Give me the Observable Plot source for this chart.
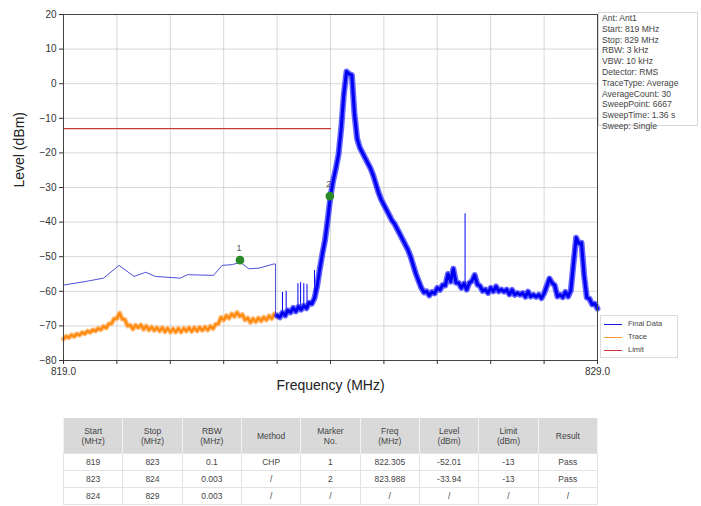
<!DOCTYPE html>
<html>
<head>
<meta charset="utf-8">
<script src="https://cdn.jsdelivr.net/npm/d3@7"></script>
<script src="https://cdn.jsdelivr.net/npm/@observablehq/plot@0.6"></script>
<style>
  body { margin: 0; background: #fff; font-family: "Liberation Sans", Arial, sans-serif; }
  #wrap { position: relative; width: 701px; height: 506px; overflow: hidden; }
  #chart { position: absolute; left: 0; top: 0; }
  #info { position: absolute; left: 598px; top: 12px; width: 100px; height: 114px; border: 1px solid #d8d8d8; box-sizing: border-box;
          font-size: 8.6px; line-height: 10.8px; color: #444; padding: 0 0 0 3px; white-space: pre; background: #fff; }
  #legend { position: absolute; left: 600px; top: 315px; width: 78px; height: 43px; border: 1px solid #dcdcdc; box-sizing: border-box;
            font-size: 7.5px; color: #444; background: #fff; }
  #legend div { position: absolute; left: 0; height: 10px; line-height: 10px; }
  #legend span.sw { position: absolute; left: 3px; top: 5px; width: 18px; height: 0; border-top: 1.5px solid; }
  #legend span.lb { position: absolute; left: 27px; top: 0; }
  table { position: absolute; left: 63px; top: 418px; width: 535px; border-collapse: collapse; table-layout: fixed;
          font-size: 8.5px; color: #444; text-align: center; }
  th { background: #d9d9d9; font-weight: normal; height: 35px; border-left: 1px solid #f2f2f2; border-right: 1px solid #f2f2f2; line-height: 10px; padding: 0; }
  td { height: 16px; border: 1px solid #e3e3e3; padding: 0; }
</style>
</head>
<body>
<div id="wrap">
  <div id="chart"></div>
  <div id="info"></div>
  <div id="legend"></div>
  <table id="tbl"></table>
</div>
<script>
// ---------- data ----------
const xTicks = [819, 820, 821, 822, 823, 824, 825, 826, 827, 828, 829];
const xTickLabels = ["819.0", "", "", "", "", "", "", "", "", "", "829.0"];
const yTicks = [-80, -70, -60, -50, -40, -30, -20, -10, 0, 10, 20];

// Final Data, 819–823 MHz segment (RBW 0.1 MHz)
const finalSegFreq  = [819.0, 819.0, 819.4, 819.75, 820.04, 820.32, 820.54, 820.72, 821.19, 821.32, 821.81, 821.97, 822.16, 822.31, 822.47, 822.66, 822.94, 822.97, 822.97];
const finalSegLevel = [-73.5, -58.2, -57.2, -56.2, -52.5, -55.7, -54.5, -55.7, -56.2, -55.2, -55.4, -52.5, -52.3, -51.6, -53.5, -53.3, -52.1, -52.1, -67.5];

// Final Data, 823–829 MHz (RBW 3 kHz), read every 0.05 MHz
const finalStart = 823.0, finalStep = 0.05;
const finalLevel = [
  -67.0, -67.5, -66.2, -67.0, -65.5, -66.1, -64.8, -65.8, -64.5, -65.3,
  -64.2, -64.9, -63.3, -63.6, -62.0, -58.5, -53.5, -49.0, -45.0, -39.0,
  -32.5, -28.0, -24.5, -20.5, -13.0, -3.0, 3.5, 2.8, 2.5, -9.0,
  -16.0, -18.5, -20.0, -21.5, -23.0, -24.5, -26.5, -29.0, -31.5, -33.5,
  -35.0, -36.5, -38.0, -39.5, -40.5, -42.0, -43.5, -45.0, -46.5, -48.0,
  -50.0, -52.5, -55.0, -57.0, -59.0, -60.3, -60.0, -61.2, -60.2, -60.6,
  -59.0, -59.6, -58.2, -58.3, -55.0, -57.2, -53.5, -57.5, -57.6, -59.0,
  -57.8, -59.5, -57.6, -57.0, -55.3, -58.0, -58.5, -59.9, -59.5, -60.5,
  -59.0, -60.0, -58.6, -60.0, -59.5, -60.1, -59.5, -60.9, -59.6, -61.0,
  -60.5, -61.0, -60.5, -61.6, -60.1, -61.5, -61.0, -61.6, -61.0, -62.0,
  -60.6, -58.5, -56.3, -57.6, -58.3, -61.5, -61.0, -61.7, -60.2, -61.5,
  -59.8, -52.0, -44.5, -46.2, -46.0, -55.5, -61.8, -62.2, -63.8, -63.6,
  -65.0
];

// narrow spurs on the Final Data trace
const spurFreq = [823.10, 823.17, 823.39, 823.44, 823.50, 823.56, 823.70, 826.52];
const spurBase = [-66.5, -66.3, -65.0, -64.8, -64.5, -64.2, -62.0, -58.0];
const spurTop  = [-60.3, -60.0, -57.8, -57.5, -57.8, -58.0, -54.0, -37.6];

// Trace, 819–823 MHz, read every 0.05 MHz
const traceStart = 819.0, traceStep = 0.05;
const traceLevel = [
  -73.8, -73.0, -73.4, -72.6, -73.1, -72.3, -72.7, -71.9, -72.3, -71.5,
  -71.9, -71.1, -71.5, -70.7, -71.1, -70.1, -70.6, -69.4, -69.3, -67.9,
  -67.9, -66.3, -68.0, -68.2, -70.0, -69.8, -70.9, -69.8, -70.5, -69.7,
  -71.0, -70.0, -71.2, -70.3, -71.3, -70.5, -71.5, -70.5, -71.7, -70.7,
  -71.8, -70.8, -71.8, -70.7, -71.8, -70.7, -71.5, -70.5, -71.6, -70.5,
  -71.5, -70.4, -71.3, -70.3, -71.2, -70.1, -70.8, -69.5, -69.4, -67.5,
  -68.3, -67.0, -67.8, -66.5, -67.3, -66.1, -67.2, -66.7, -68.3, -67.7,
  -69.0, -67.9, -68.8, -67.7, -68.6, -67.5, -68.3, -67.1, -67.9, -66.5,
  -67.4
];

// Limit line
const limitFreq  = [819, 824];
const limitLevel = [-13, -13];

// Markers
const markerNo    = ["1", "2"];
const markerFreq  = [822.305, 823.988];
const markerLevel = [-51.0, -32.5];

// Settings text
const infoLines = ["Ant: Ant1", "Start: 819 MHz", "Stop: 829 MHz", "RBW: 3 kHz", "VBW: 10 kHz", "Detector: RMS",
  "TraceType: Average", "AverageCount: 30", "SweepPoint: 6667", "SweepTime: 1.36 s", "Sweep: Single"];

// Legend
const legendNames  = ["Final Data", "Trace", "Limit"];
const legendColors = ["#1a1ae6", "#ff9a30", "#c8383a"];

// Table
const tableHeader = ["Start<br>(MHz)", "Stop<br>(MHz)", "RBW<br>(MHz)", "Method", "Marker<br>No.", "Freq<br>(MHz)", "Level<br>(dBm)", "Limit<br>(dBm)", "Result"];
const tableRows = [
  ["819", "823", "0.1", "CHP", "1", "822.305", "-52.01", "-13", "Pass"],
  ["823", "824", "0.003", "/", "2", "823.988", "-33.94", "-13", "Pass"],
  ["824", "829", "0.003", "/", "/", "/", "/", "/", "/"]
];

// ---------- build tables for Plot ----------
const BLUE = "#0000f0", ORANGE = "#ff8a10", RED = "#c8383a", GREEN = "#2a8a2a";
const finalSeg = finalSegFreq.map((f, i) => ({f, v: finalSegLevel[i]}));
const finalData = finalLevel.map((v, i) => ({f: finalStart + i * finalStep, v}));
const traceData = traceLevel.map((v, i) => ({f: traceStart + i * traceStep, v}));
const spurs = spurFreq.map((f, i) => ({f, y1: spurBase[i], y2: spurTop[i]}));
const limit = limitFreq.map((f, i) => ({f, v: limitLevel[i]}));
const markers = markerNo.map((n, i) => ({n, f: markerFreq[i], v: markerLevel[i]}));

const chart = Plot.plot({
  width: 701,
  height: 405,
  marginLeft: 63,
  marginRight: 104,
  marginTop: 14,
  marginBottom: 45,
  style: {fontFamily: "'Liberation Sans', Arial, sans-serif", fontSize: "10px", color: "#333", background: "#fff"},
  x: {domain: [819, 829], label: null},
  y: {domain: [-80, 20], label: null},
  marks: [
    Plot.gridX(xTicks, {stroke: "#c8c8c8", strokeOpacity: 0.7}),
    Plot.gridY(yTicks, {stroke: "#c8c8c8", strokeOpacity: 0.7}),
    Plot.line(limit, {x: "f", y: "v", stroke: RED, strokeWidth: 1.2}),
    Plot.line(traceData, {x: "f", y: "v", stroke: "#ffb060", strokeWidth: 5, strokeOpacity: 0.8}),
    Plot.line(traceData, {x: "f", y: "v", stroke: ORANGE, strokeWidth: 2.4}),
    Plot.line(finalSeg, {x: "f", y: "v", stroke: "#5050d8", strokeWidth: 1}),
    Plot.ruleX(spurs, {x: "f", y1: "y1", y2: "y2", stroke: BLUE, strokeWidth: 1}),
    Plot.line(finalData, {x: "f", y: "v", stroke: "#3030ff", strokeWidth: 6, strokeOpacity: 0.75}),
    Plot.line(finalData, {x: "f", y: "v", stroke: BLUE, strokeWidth: 3}),
    Plot.link(markers, {x1: "f", x2: "f", y1: "v", y2: "v", dy: -5, stroke: "#777"}),
    Plot.dot(markers, {x: "f", y: "v", r: 3.6, fill: GREEN, stroke: GREEN}),
    Plot.text(markers, {x: "f", y: "v", text: "n", dy: -12, dx: -1, fill: "#555", fontSize: 9}),
    Plot.frame({stroke: "#444", strokeWidth: 1}),
    Plot.axisX({ticks: xTicks, tickFormat: (d) => xTickLabels[xTicks.indexOf(d)], tickSize: 4, tickPadding: 3, fontSize: 10, label: null, stroke: "#333"}),
    Plot.axisY({ticks: yTicks, tickSize: 4, tickPadding: 3, fontSize: 10, label: null, stroke: "#333"}),
    Plot.text(["Frequency (MHz)"], {frameAnchor: "bottom", dy: 29, fontSize: 14, fill: "#222"}),
    Plot.text(["Level (dBm)"], {frameAnchor: "left", dx: -44, rotate: -90, fontSize: 14, fill: "#222"})
  ]
});
document.getElementById("chart").appendChild(chart);

// info box
document.getElementById("info").textContent = infoLines.join("\n");

// legend
const leg = document.getElementById("legend");
legendNames.forEach((name, i) => {
  const row = document.createElement("div");
  row.style.top = (3 + i * 13) + "px";
  row.style.width = "76px";
  row.innerHTML = `<span class="sw" style="border-color:${legendColors[i]}"></span><span class="lb">${name}</span>`;
  leg.appendChild(row);
});

// table
const tbl = document.getElementById("tbl");
tbl.innerHTML = "<tr>" + tableHeader.map(h => `<th>${h}</th>`).join("") + "</tr>" +
  tableRows.map(r => "<tr>" + r.map(c => `<td>${c}</td>`).join("") + "</tr>").join("");
</script>
</body>
</html>
